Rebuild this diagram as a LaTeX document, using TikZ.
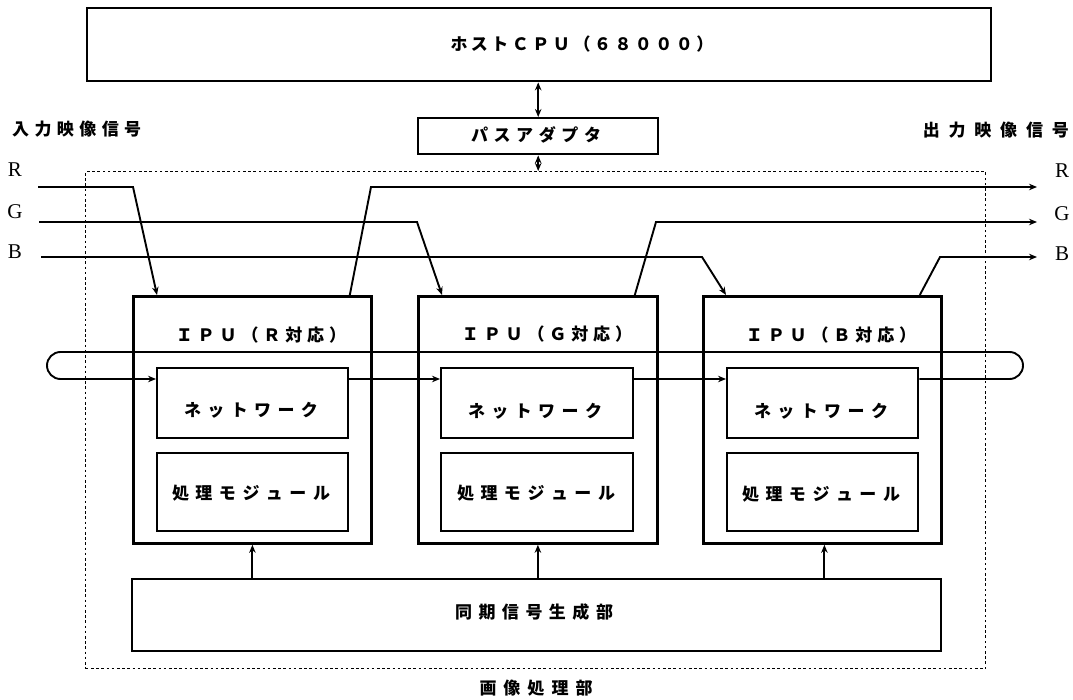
\documentclass[tikz,border=0pt]{standalone}
\usepackage{fontspec}
\setmainfont{Noto Sans CJK JP}
\newfontfamily\serf{Liberation Serif}
\usetikzlibrary{arrows.meta,calc}
\makeatletter
\newcommand\lsp[2]{\def\lsp@gap{#1}\lsp@aux#2\relax}
\def\lsp@aux#1#2{#1\ifx\relax#2\else\hspace{\lsp@gap}\expandafter\lsp@aux\expandafter#2\fi}
\makeatother
\begin{document}
\begin{tikzpicture}[x=1pt,y=-1pt,
  box/.style={draw, line width=2.4pt, inner sep=0pt, anchor=north west},
  ipubox/.style={box, line width=2.8pt},
  frame/.style={draw, line width=1.4pt, dash pattern=on 2.6pt off 2.6pt, inner sep=0pt, anchor=north west},
  sig/.style={line width=1.9pt},
  arr/.style={-{Stealth[length=8pt,width=6.5pt]}},
  darr/.style={{Stealth[length=8pt,width=6.5pt]}-{Stealth[length=8pt,width=6.5pt]}},
  txt/.style={font=\bfseries\fontsize{17}{19}\selectfont, inner sep=0pt},
  rgb/.style={font=\serf\fontsize{21}{23}\selectfont, inner sep=0pt}]
\useasboundingbox (0,0) rectangle (1073,700);

% boxes
\node[box, minimum width=904pt, minimum height=73pt] (cpu) at (86,7) {};
\node[box, minimum width=240pt, minimum height=36pt] (bus) at (417,117) {};
\node[frame, minimum width=900pt, minimum height=497pt] (frm) at (85,171) {};
\node[ipubox, minimum width=238pt, minimum height=247pt] (ipuR) at (132,295) {};
\node[ipubox, minimum width=239pt, minimum height=247pt] (ipuG) at (417,295) {};
\node[ipubox, minimum width=238pt, minimum height=247pt] (ipuB) at (702,295) {};
\node[box, minimum width=191pt, minimum height=70pt] (netR) at (156,367) {};
\node[box, minimum width=192pt, minimum height=70pt] (netG) at (440,367) {};
\node[box, minimum width=191pt, minimum height=70pt] (netB) at (726,367) {};
\node[box, minimum width=191pt, minimum height=78pt] (modR) at (156,452) {};
\node[box, minimum width=192pt, minimum height=78pt] (modG) at (440,452) {};
\node[box, minimum width=191pt, minimum height=78pt] (modB) at (726,452) {};
\node[box, minimum width=809pt, minimum height=72pt] (sync) at (131,578) {};

% texts
\node[txt] (tcpu) at (582,44) {\lsp{3.5pt}{ホストＣＰＵ（６８０００）}};
\node[txt] (tbus) at (536,135) {\lsp{5.6pt}{パスアダプタ}};
\node[txt, anchor=west] (tin) at (12,129) {\lsp{5.4pt}{入力映像信号}};
\node[txt, anchor=east] (tout) at (1069,130) {\lsp{8.8pt}{出力映像信号}};
\node[txt] (tipuR) at (261,335) {\lsp{4.9pt}{ＩＰＵ（Ｒ対応）}};
\node[txt] (tipuG) at (547,334) {\lsp{4.9pt}{ＩＰＵ（Ｇ対応）}};
\node[txt] (tipuB) at (831,335) {\lsp{4.9pt}{ＩＰＵ（Ｂ対応）}};
\node[txt] (tnetR) at (251,410) {\lsp{6.4pt}{ネットワーク}};
\node[txt] (tnetG) at (535,411) {\lsp{6.4pt}{ネットワーク}};
\node[txt] (tnetB) at (821,411) {\lsp{6.4pt}{ネットワーク}};
\node[txt] (tmodR) at (251,493) {\lsp{6.5pt}{処理モジュール}};
\node[txt] (tmodG) at (536,493) {\lsp{6.5pt}{処理モジュール}};
\node[txt] (tmodB) at (821,494) {\lsp{6.5pt}{処理モジュール}};
\node[txt] (tsync) at (534,612) {\lsp{6.5pt}{同期信号生成部}};
\node[txt] (tfrm) at (536,688) {\lsp{7pt}{画像処理部}};

\node[rgb] (lR) at (15,170) {R};
\node[rgb] (lG) at (15,212) {G};
\node[rgb] (lB) at (15,252) {B};
\node[rgb] (rR) at (1062,171) {R};
\node[rgb] (rG) at (1062,214) {G};
\node[rgb] (rB) at (1062,254) {B};

% signal coordinates
\coordinate (inR) at (38,187);
\coordinate (inG) at (39,222);
\coordinate (inB) at (41,257);
\coordinate (outR) at (1037,187);
\coordinate (outG) at (1037,222);
\coordinate (outB) at (1037,257);

% bus arrows
\draw[sig,darr] (bus.north) -- (bus.north |- cpu.south);
\draw[sig,darr] (bus.south) -- (bus.south |- frm.north);

% input signals
\draw[sig,arr] (inR) -- (133,187) -- ($(ipuR.north west)+(25,0)$);
\draw[sig,arr] (inG) -- (417,222) -- ($(ipuG.north west)+(25,0)$);
\draw[sig,arr] (inB) -- (702,257) -- ($(ipuB.north west)+(24,0)$);

% output signals
\draw[sig,arr] ($(ipuR.north east)+(-23,0)$) -- (371,187) -- (outR);
\draw[sig,arr] ($(ipuG.north east)+(-24,0)$) -- (656,222) -- (outG);
\draw[sig,arr] ($(ipuB.north east)+(-23,0)$) -- (940,257) -- (outB);

% ring network
\draw[sig,arr] ($(netB.north east)+(0,12)$) -- (1009.5,379)
  arc[start angle=90, end angle=-90, radius=13.5] -- (60.5,352)
  arc[start angle=-90, end angle=-270, radius=13.5] -- ($(netR.north west)+(0,12)$);
\draw[sig,arr] ($(netR.north east)+(0,12)$) -- ($(netG.north west)+(0,12)$);
\draw[sig,arr] ($(netG.north east)+(0,12)$) -- ($(netB.north west)+(0,12)$);

% sync arrows
\draw[sig,arr] (sync.north -| ipuR.south) -- (ipuR.south);
\draw[sig,arr] (sync.north -| ipuG.south) -- (ipuG.south);
\draw[sig,arr] ($(sync.north -| ipuB.south)+(2,0)$) -- ($(ipuB.south)+(2,0)$);
\end{tikzpicture}
\end{document}
